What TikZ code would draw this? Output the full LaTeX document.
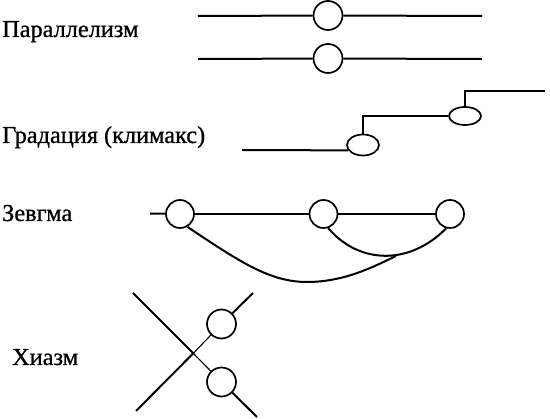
\documentclass[tikz,border=0pt]{standalone}
\usepackage{fontspec}
\setmainfont{Liberation Serif}
\newfontfamily\lblfont{Liberation Serif}[FakeBold=0.8]
\usetikzlibrary{shapes.geometric}
\begin{document}
\begin{tikzpicture}[x=1pt,y=-1pt,
  ln/.style={line width=2pt},
  thin ln/.style={line width=1.1pt},
  ring/.style={circle,draw,line width=1.7pt,inner sep=0pt,minimum size=29pt},
  oval/.style={ellipse,draw,line width=1.7pt,inner sep=0pt,minimum width=32pt},
  lbl/.style={anchor=base west,inner sep=0pt,font=\lblfont\fontsize{24.3}{29}\selectfont}]
\useasboundingbox (0,0) rectangle (550,419);
% labels
\node[lbl] (tpar) at (2,37) {Параллелизм};
\node[lbl] (tgrad) at (2,143) {Градация (климакс)};
\node[lbl] (tzeu) at (2,221) {Зевгма};
\node[lbl] (tchi) at (12,365) {Хиазм};
% parallelism
\node[ring] (p1) at (328,15.5) {};
\node[ring] (p2) at (328,58.5) {};
\coordinate (p1l) at (198,16);
\coordinate (p1r) at (482,16);
\coordinate (p2l) at (198,59);
\coordinate (p2r) at (482,59);
\draw[ln] (p1l) -- (p1);
\draw[ln] (p1) -- (p1r);
\draw[ln] (p2l) -- (p2);
\draw[ln] (p2) -- (p2r);
% gradation
\node[oval,minimum height=21pt] (e1) at (363,145) {};
\node[oval,minimum height=18pt] (e2) at (465,116) {};
\coordinate (g0) at (242,150);
\coordinate (g3) at (545,91);
\draw[ln] (g0) -- (e1.200);
\draw[ln] (e1.north) |- (e2.west);
\draw[ln] (e2.north) |- (g3);
% zeugma
\node[ring,minimum size=28pt] (z1) at (180,214) {};
\node[ring,minimum size=28pt] (z2) at (323.5,214) {};
\node[ring,minimum size=28pt] (z3) at (450,214) {};
\coordinate (z0) at (150,213.5);
\coordinate (zm) at (396,256);
\draw[ln] (z0) -- (z1);
\draw[ln] (z1) -- (z2);
\draw[ln] (z2) -- (z3);
\draw[ln] (z2.-72) .. controls (360,265) and (410,265) .. (z3.-105);
\draw[ln] (z1.-60) .. controls (240,262) and (270,282) .. (307,282)
  .. controls (345,282) and (375,266) .. (zm);
% chiasm
\node[ring] (c1) at (221.5,324) {};
\node[ring] (c2) at (221.5,382) {};
\coordinate (a1) at (133,293);
\coordinate (a2) at (257,417);
\coordinate (b1) at (136,411);
\coordinate (b2) at (253,293);
\coordinate (cx) at (193.3,353.3);
\draw[ln] (a1) -- (cx);
\draw[thin ln] (cx) -- (c2);
\draw[ln] (c2) -- (a2);
\draw[ln] (b1) -- (cx);
\draw[thin ln] (cx) -- (c1);
\draw[ln] (c1) -- (b2);
\end{tikzpicture}
\end{document}
